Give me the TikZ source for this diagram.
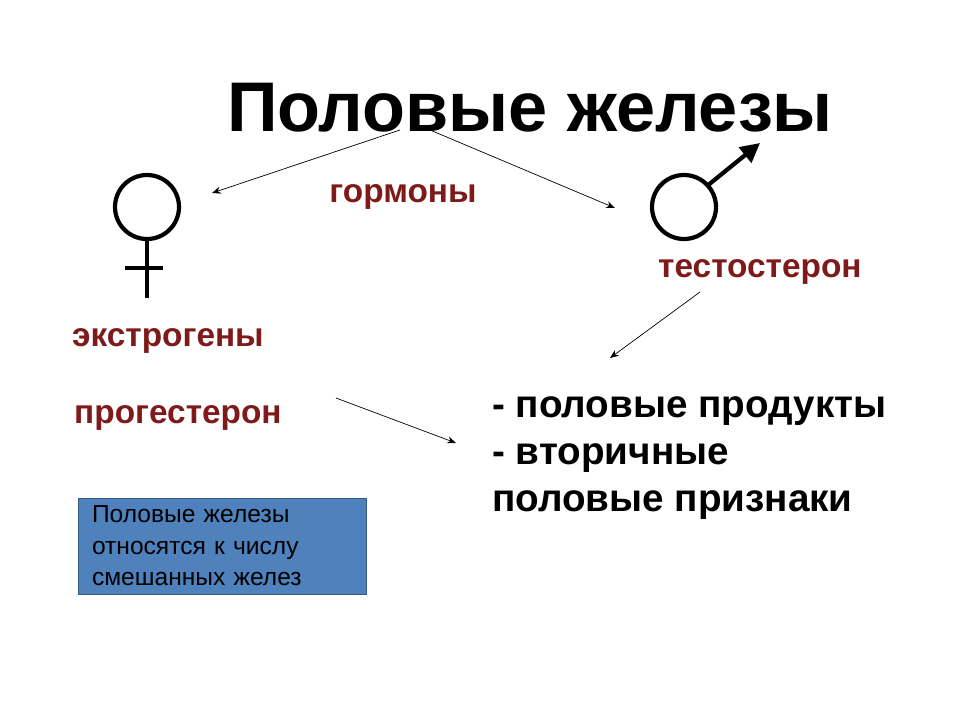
\documentclass[tikz,border=0pt]{standalone}
\usepackage{fontspec}
\setmainfont{Liberation Sans}
\usetikzlibrary{arrows.meta}
\definecolor{hormred}{HTML}{7F1A1A}
\definecolor{boxblue}{HTML}{4F81BD}
\tikzset{
  hormone/.style={font=\bfseries\fontsize{19}{22}\selectfont, text=hormred},
  effect/.style={font=\bfseries\fontsize{22}{27}\selectfont, align=left},
  thin arrow/.style={-{Stealth[length=5pt,width=4pt]}, thin},
  symbol/.style={line width=2.4pt}
}
\begin{document}
\begin{tikzpicture}[x=0.02cm,y=-0.02cm]
  \useasboundingbox (0,0) rectangle (960,720);

  \node (title) at (530,108) {\bfseries\fontsize{40}{48}\selectfont Половые железы};
  \node[hormone] (gorm) at (403,197) {гормоны};
  \node[hormone, anchor=west] (test) at (652,272) {тестостерон};
  \node[hormone, anchor=west] (ekstr) at (66,341) {экстрогены};
  \node[hormone, anchor=west] (prog) at (68,418) {прогестерон};
  \node[effect, anchor=north west] (eff) at (486,390) {- половые продукты\\- вторичные\\половые признаки};

  \node[fill=boxblue, draw=boxblue!70!black, minimum width=288*0.02cm, minimum height=96*0.02cm,
        align=left, font=\fontsize{14}{18}\selectfont, text width=260*0.02cm] (box) at (222,546)
        {Половые железы относятся к числу смешанных желез};

  % female symbol
  \draw[symbol] (147,207) circle (32);
  \coordinate (fbot) at (147,298);
  \draw[symbol] (147,239) -- (fbot);
  \draw[symbol] (125,268) -- (163,268);
  % male symbol
  \draw[symbol] (684,207) circle (32);
  \draw[symbol, -{Triangle[length=11pt,width=11pt]}] (707,186) -- (760,143);

  % arrows
  \coordinate (a1) at (400,130);
  \coordinate (b1) at (212,193);
  \coordinate (a2) at (430,130);
  \coordinate (b2) at (615,208);
  \coordinate (a3) at (700,292);
  \coordinate (b3) at (610,358);
  \coordinate (a4) at (336,398);
  \coordinate (b4) at (456,443);
  \draw[thin arrow] (a1) -- (b1);
  \draw[thin arrow] (a2) -- (b2);
  \draw[thin arrow] (a3) -- (b3);
  \draw[thin arrow] (a4) -- (b4);
\end{tikzpicture}
\end{document}
